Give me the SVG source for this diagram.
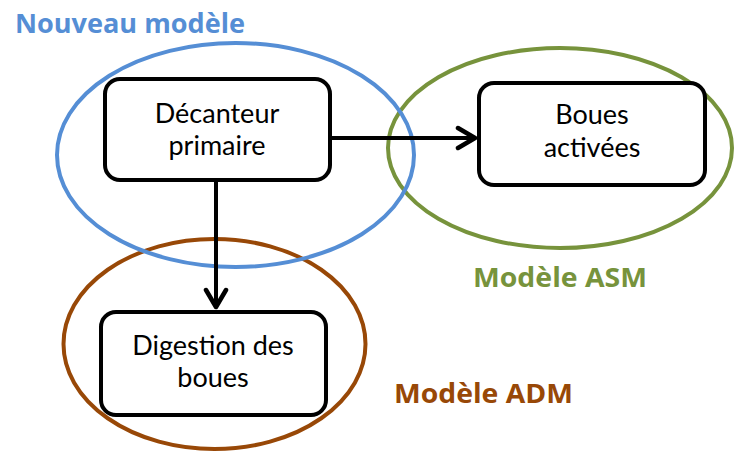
<svg xmlns="http://www.w3.org/2000/svg" width="734" height="451" viewBox="0 0 734 451">
<defs>
<style>
.box{fill:#fff;stroke:#000;stroke-width:4}
.t{font-family:Lato,"Open Sans","Liberation Sans",sans-serif;font-size:27px;fill:#000;text-anchor:middle}
.lbl{font-family:"Open Sans",Lato,"Liberation Sans",sans-serif;font-size:26px;font-weight:bold}
.ell{fill:none;stroke-width:4}
.conn{stroke:#000;stroke-width:4;fill:none}
</style>
<marker id="arr" viewBox="0 0 24 28" refX="21" refY="14" markerWidth="24" markerHeight="28" markerUnits="userSpaceOnUse" orient="auto">
<path d="M3 4 L20 14 L3 24" fill="none" stroke="#000" stroke-width="4.5" stroke-linecap="round" stroke-linejoin="round"/>
</marker>
</defs>
<rect width="734" height="451" fill="#fff"/>
<g id="ellipses">
<ellipse id="adm" class="ell" cx="214.5" cy="344" rx="151" ry="105" stroke="#984807"/>
<ellipse id="asm" class="ell" cx="560" cy="148" rx="172" ry="100" stroke="#77933C"/>
<ellipse id="nouveau" class="ell" cx="235.5" cy="155" rx="178.5" ry="112" stroke="#558ED5"/>
</g>
<g id="connectors">
<path class="conn" d="M332 138 H476" marker-end="url(#arr)"/>
<path class="conn" d="M216 182 V308" marker-end="url(#arr)"/>
</g>
<g id="decanteur">
<rect class="box" x="105" y="79" width="225" height="101" rx="15"/>
<text class="t" x="217" y="123">Décanteur</text>
<text class="t" x="217" y="155">primaire</text>
</g>
<g id="boues-activees">
<rect class="box" x="479" y="83" width="226" height="102" rx="15"/>
<text class="t" x="592" y="124">Boues</text>
<text class="t" x="592" y="157">activées</text>
</g>
<g id="digestion">
<rect class="box" x="101" y="312" width="225" height="103" rx="15"/>
<text class="t" x="213" y="355">Digestion des</text>
<text class="t" x="213" y="387">boues</text>
</g>
<g id="labels">
<text class="lbl" x="15" y="33" fill="#558ED5" textLength="230" lengthAdjust="spacingAndGlyphs">Nouveau modèle</text>
<text class="lbl" x="473" y="287" fill="#77933C" textLength="174" lengthAdjust="spacingAndGlyphs">Modèle ASM</text>
<text class="lbl" x="394" y="403" fill="#984807" textLength="179" lengthAdjust="spacingAndGlyphs">Modèle ADM</text>
</g>
</svg>
